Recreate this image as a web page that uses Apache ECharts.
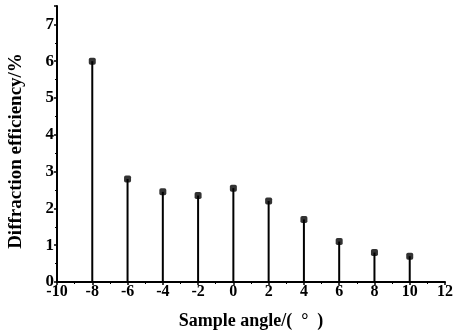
<!DOCTYPE html>
<html><head><meta charset="utf-8">
<script src="https://cdn.jsdelivr.net/npm/echarts@6/dist/echarts.min.js"></script>
<style>html,body{margin:0;padding:0;background:#fff}#c{width:453px;height:335px}</style>
</head><body><div id="c"></div>
<script>
const angles = [-8, -6, -4, -2, 0, 2, 4, 6, 8, 10];
const efficiency = [6.0, 2.8, 2.45, 2.35, 2.55, 2.2, 1.7, 1.1, 0.8, 0.7];
const xTicks = [-10, -8, -6, -4, -2, 0, 2, 4, 6, 8, 10, 12];
const yTicks = [0, 1, 2, 3, 4, 5, 6, 7];

const pts = angles.map((a, i) => [a, efficiency[i]]);
const font = '"Liberation Serif", "Times New Roman", serif';
const chart = echarts.init(document.getElementById('c'));
chart.setOption({
  animation: false,
  grid: {left: 57, right: 8, top: 6, bottom: 53, containLabel: false, outerBoundsMode: 'none'},
  xAxis: {
    type: 'value', min: xTicks[0], max: xTicks[xTicks.length - 1], interval: 2,
    name: 'Sample angle/(  °  )', nameLocation: 'middle', nameGap: 30,
    nameTextStyle: {fontFamily: font, fontWeight: 'bold', fontSize: 18, color: '#000'},
    axisLine: {onZero: false, lineStyle: {color: '#000', width: 2}},
    axisTick: {inside: false, length: 3, lineStyle: {color: '#000', width: 1.5}},
    minorTick: {show: true, splitNumber: 2, length: 2, lineStyle: {color: '#000'}},
    axisLabel: {fontFamily: font, fontWeight: 'bold', fontSize: 16, color: '#000', margin: 2},
    splitLine: {show: false}
  },
  yAxis: {
    type: 'value', min: 0, max: 7.5, interval: 1,
    name: 'Diffraction efficiency/%', nameLocation: 'middle', nameGap: 31, nameRotate: 90,
    nameTextStyle: {fontFamily: font, fontWeight: 'bold', fontSize: 19, color: '#000', padding: [0, 14, 0, 0]},
    axisLine: {onZero: false, lineStyle: {color: '#000', width: 2}},
    axisTick: {length: 3, lineStyle: {color: '#000', width: 1.5}},
    minorTick: {show: true, splitNumber: 2, length: 2, lineStyle: {color: '#000'}},
    axisLabel: {fontFamily: font, fontWeight: 'bold', fontSize: 17, color: '#000', margin: 3,
      formatter: v => (yTicks.includes(v) ? String(v) : '')},
    splitLine: {show: false}
  },
  series: [
    {type: 'bar', data: pts, barWidth: 2, itemStyle: {color: '#000'}, silent: true},
    {type: 'scatter', data: pts, symbol: 'roundRect', symbolSize: 7, itemStyle: {color: '#000'}}
  ]
});
</script></body></html>
